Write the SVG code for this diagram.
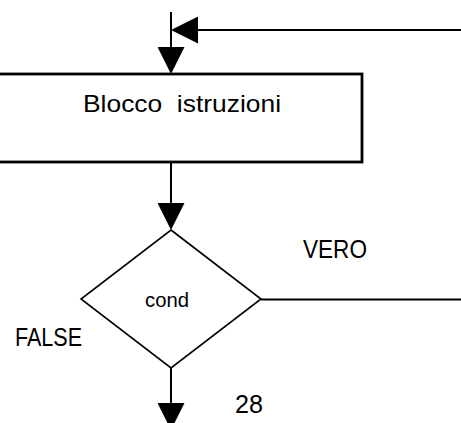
<svg xmlns="http://www.w3.org/2000/svg" width="461" height="423" viewBox="0 0 461 423">
  <style>
    .line { fill: none; stroke: #000; stroke-width: 2; }
    .shape { fill: #fff; stroke: #000; }
    .label { font-family: "Liberation Sans", Arial, sans-serif; fill: #000; }
  </style>
  <defs>
    <marker id="head" viewBox="0 0 27 27" refX="24" refY="13.5" markerWidth="27" markerHeight="27" markerUnits="userSpaceOnUse" orient="auto">
      <path d="M0,0 L27,13.5 L0,27 Z" fill="#000"/>
    </marker>
  </defs>

  <!-- connectors -->
  <g id="connectors">
    <path class="line" d="M461,30 L174,30" marker-end="url(#head)"/>
    <path class="line" d="M171,12 L171,71" marker-end="url(#head)"/>
    <path class="line" d="M171,162 L171,227" marker-end="url(#head)"/>
    <path class="line" d="M171,368 L171,427" marker-end="url(#head)"/>
    <path class="line" d="M261,299.5 L461,299.5"/>
  </g>

  <!-- instruction block -->
  <g id="blocco">
    <rect class="shape" x="-3" y="74" width="365" height="88" stroke-width="2.8"/>
    <text class="label" x="83" y="112" font-size="24" textLength="198" lengthAdjust="spacingAndGlyphs" xml:space="preserve">Blocco  istruzioni</text>
  </g>

  <!-- decision -->
  <g id="cond">
    <polygon class="shape" points="171,230 261,299 171,368 81,299" stroke-width="1.6"/>
    <text class="label" x="145" y="307" font-size="21" textLength="44" lengthAdjust="spacingAndGlyphs">cond</text>
  </g>

  <!-- branch labels -->
  <g id="labels">
    <text class="label" x="303" y="258" font-size="25" textLength="64" lengthAdjust="spacingAndGlyphs">VERO</text>
    <text class="label" x="15" y="346" font-size="25" textLength="67" lengthAdjust="spacingAndGlyphs">FALSE</text>
    <text class="label" x="235" y="413" font-size="25" textLength="28" lengthAdjust="spacingAndGlyphs">28</text>
  </g>
</svg>
